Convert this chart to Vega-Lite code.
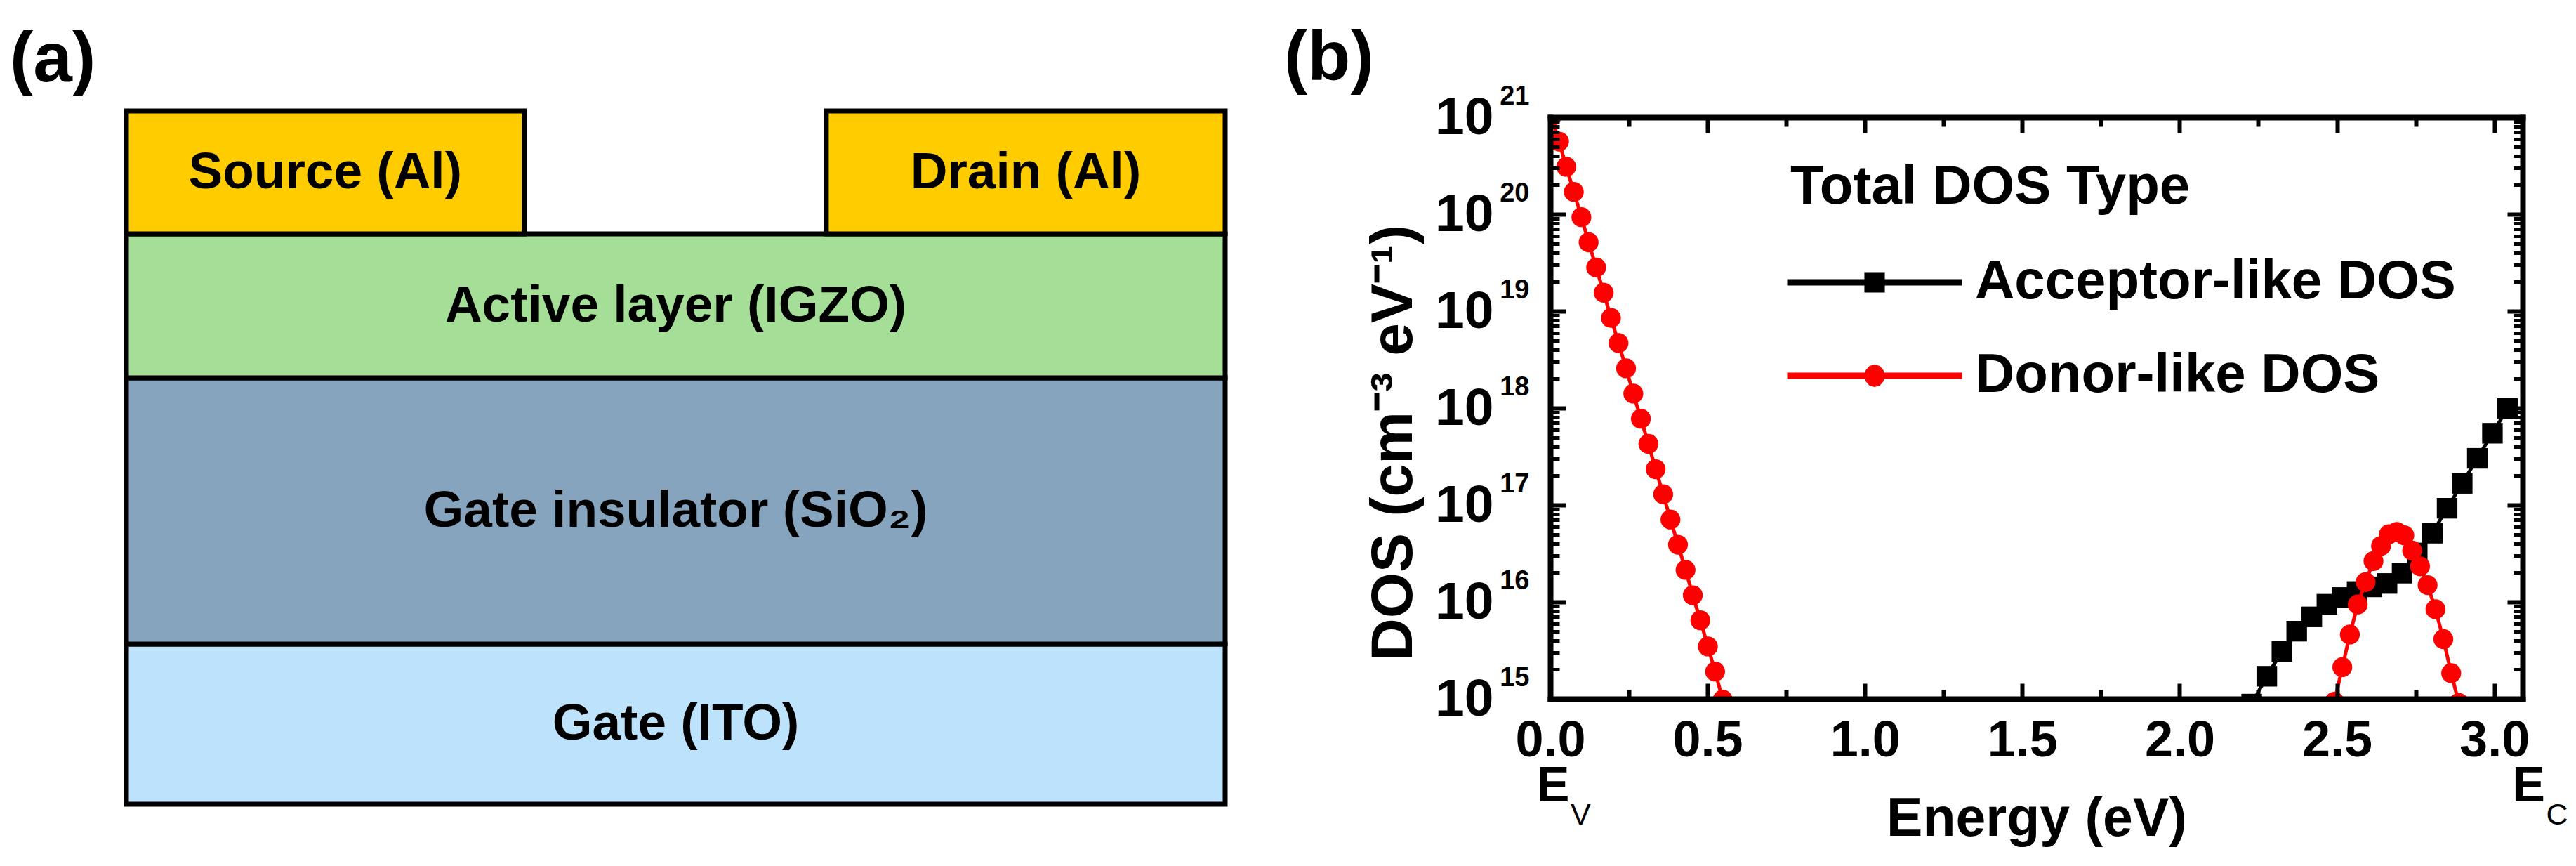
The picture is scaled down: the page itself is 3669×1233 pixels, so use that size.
{
  "$schema": "https://vega.github.io/schema/vega-lite/v6.json",
  "background": "white",
  "padding": {"left": 14, "top": 34, "right": 5, "bottom": 5},
  "config": {
    "font": "Liberation Sans",
    "view": {"stroke": null},
    "axis": {"labelFont": "Liberation Sans", "titleFont": "Liberation Sans", "labelColor": "black", "titleColor": "black", "tickColor": "black", "domainColor": "black", "grid": false},
    "legend": {"labelFont": "Liberation Sans", "titleFont": "Liberation Sans"},
    "title": {"font": "Liberation Sans", "color": "black"},
    "text": {"font": "Liberation Sans", "color": "black"}
  },
  "spacing": 463,
  "bounds": "flush",
  "resolve": {"scale": {"color": "independent", "fill": "independent", "shape": "independent"}, "legend": {"color": "independent", "fill": "independent", "shape": "independent"}},
  "hconcat": [
    {
      "width": 1565,
      "height": 978,
      "title": {"text": "(a)", "anchor": "start", "frame": "group", "fontSize": 100, "fontWeight": "bold", "baseline": "alphabetic", "offset": 0, "dy": 61, "dx": -166},
      "data": {"values": [
        {"layer": "Gate", "label": "Gate (ITO)", "x0": 0, "x1": 100, "y0": 0, "y1": 228},
        {"layer": "Gate insulator", "label": "Gate insulator (SiO₂)", "x0": 0, "x1": 100, "y0": 228, "y1": 607},
        {"layer": "Active layer", "label": "Active layer (IGZO)", "x0": 0, "x1": 100, "y0": 607, "y1": 812},
        {"layer": "Source", "label": "Source (Al)", "x0": 0, "x1": 36.2, "y0": 812, "y1": 987},
        {"layer": "Drain", "label": "Drain (Al)", "x0": 63.7, "x1": 100, "y0": 812, "y1": 987}
      ]},
      "layer": [
        {
          "mark": {"type": "rect", "stroke": "black", "strokeWidth": 7},
          "encoding": {
            "x": {"field": "x0", "type": "quantitative", "scale": {"domain": [0, 100], "nice": false, "zero": false}, "axis": null},
            "x2": {"field": "x1"},
            "y": {"field": "y0", "type": "quantitative", "scale": {"domain": [0, 978], "nice": false, "zero": false}, "axis": null},
            "y2": {"field": "y1"},
            "fill": {"field": "layer", "type": "nominal", "legend": null,
              "scale": {"domain": ["Gate", "Gate insulator", "Active layer", "Source", "Drain"], "range": ["#BDE3FC", "#87A4BF", "#A5DF97", "#FFCC00", "#FFCC00"]}}
          }
        },
        {
          "transform": [
            {"calculate": "(datum.x0 + datum.x1) / 2", "as": "cx"},
            {"calculate": "(datum.y0 + datum.y1) / 2", "as": "cy"}
          ],
          "mark": {"type": "text", "fontSize": 73, "fontWeight": "bold", "align": "center", "baseline": "middle", "color": "black"},
          "encoding": {
            "x": {"field": "cx", "type": "quantitative"},
            "y": {"field": "cy", "type": "quantitative"},
            "text": {"field": "label"}
          }
        }
      ]
    },
    {
      "width": 1385,
      "height": 828,
      "title": {"text": "(b)", "anchor": "start", "frame": "group", "fontSize": 100, "fontWeight": "bold", "baseline": "alphabetic", "offset": 0, "dy": 96, "dx": -379},
      "data": {"values": [
        {"series": "Acceptor-like DOS", "branch": "acceptor", "energy": 2.229, "dos": 8.83e14},
        {"series": "Acceptor-like DOS", "branch": "acceptor", "energy": 2.277, "dos": 1.71e15},
        {"series": "Acceptor-like DOS", "branch": "acceptor", "energy": 2.325, "dos": 3.09e15},
        {"series": "Acceptor-like DOS", "branch": "acceptor", "energy": 2.372, "dos": 4.99e15},
        {"series": "Acceptor-like DOS", "branch": "acceptor", "energy": 2.420, "dos": 7.01e15},
        {"series": "Acceptor-like DOS", "branch": "acceptor", "energy": 2.468, "dos": 9.46e15},
        {"series": "Acceptor-like DOS", "branch": "acceptor", "energy": 2.516, "dos": 1.11e16},
        {"series": "Acceptor-like DOS", "branch": "acceptor", "energy": 2.564, "dos": 1.28e16},
        {"series": "Acceptor-like DOS", "branch": "acceptor", "energy": 2.611, "dos": 1.43e16},
        {"series": "Acceptor-like DOS", "branch": "acceptor", "energy": 2.659, "dos": 1.55e16},
        {"series": "Acceptor-like DOS", "branch": "acceptor", "energy": 2.707, "dos": 1.98e16},
        {"series": "Acceptor-like DOS", "branch": "acceptor", "energy": 2.755, "dos": 3.20e16},
        {"series": "Acceptor-like DOS", "branch": "acceptor", "energy": 2.803, "dos": 5.12e16},
        {"series": "Acceptor-like DOS", "branch": "acceptor", "energy": 2.850, "dos": 9.25e16},
        {"series": "Acceptor-like DOS", "branch": "acceptor", "energy": 2.898, "dos": 1.67e17},
        {"series": "Acceptor-like DOS", "branch": "acceptor", "energy": 2.946, "dos": 3.03e17},
        {"series": "Acceptor-like DOS", "branch": "acceptor", "energy": 2.994, "dos": 5.50e17},
        {"series": "Acceptor-like DOS", "branch": "acceptor", "energy": 3.042, "dos": 9.91e17},
        {"series": "Donor-like DOS", "branch": "tail", "energy": 0.004, "dos": 1.02e21},
        {"series": "Donor-like DOS", "branch": "tail", "energy": 0.028, "dos": 5.62e20},
        {"series": "Donor-like DOS", "branch": "tail", "energy": 0.051, "dos": 3.09e20},
        {"series": "Donor-like DOS", "branch": "tail", "energy": 0.075, "dos": 1.70e20},
        {"series": "Donor-like DOS", "branch": "tail", "energy": 0.099, "dos": 9.33e19},
        {"series": "Donor-like DOS", "branch": "tail", "energy": 0.122, "dos": 5.13e19},
        {"series": "Donor-like DOS", "branch": "tail", "energy": 0.146, "dos": 2.82e19},
        {"series": "Donor-like DOS", "branch": "tail", "energy": 0.170, "dos": 1.55e19},
        {"series": "Donor-like DOS", "branch": "tail", "energy": 0.193, "dos": 8.51e18},
        {"series": "Donor-like DOS", "branch": "tail", "energy": 0.217, "dos": 4.68e18},
        {"series": "Donor-like DOS", "branch": "tail", "energy": 0.241, "dos": 2.57e18},
        {"series": "Donor-like DOS", "branch": "tail", "energy": 0.264, "dos": 1.41e18},
        {"series": "Donor-like DOS", "branch": "tail", "energy": 0.288, "dos": 7.76e17},
        {"series": "Donor-like DOS", "branch": "tail", "energy": 0.312, "dos": 4.27e17},
        {"series": "Donor-like DOS", "branch": "tail", "energy": 0.335, "dos": 2.34e17},
        {"series": "Donor-like DOS", "branch": "tail", "energy": 0.359, "dos": 1.29e17},
        {"series": "Donor-like DOS", "branch": "tail", "energy": 0.382, "dos": 7.08e16},
        {"series": "Donor-like DOS", "branch": "tail", "energy": 0.406, "dos": 3.89e16},
        {"series": "Donor-like DOS", "branch": "tail", "energy": 0.430, "dos": 2.14e16},
        {"series": "Donor-like DOS", "branch": "tail", "energy": 0.453, "dos": 1.17e16},
        {"series": "Donor-like DOS", "branch": "tail", "energy": 0.477, "dos": 6.46e15},
        {"series": "Donor-like DOS", "branch": "tail", "energy": 0.501, "dos": 3.47e15},
        {"series": "Donor-like DOS", "branch": "tail", "energy": 0.524, "dos": 1.91e15},
        {"series": "Donor-like DOS", "branch": "tail", "energy": 0.548, "dos": 9.8e14},
        {"series": "Donor-like DOS", "branch": "gaussian", "energy": 2.492, "dos": 9.33e14},
        {"series": "Donor-like DOS", "branch": "gaussian", "energy": 2.517, "dos": 2.12e15},
        {"series": "Donor-like DOS", "branch": "gaussian", "energy": 2.541, "dos": 4.61e15},
        {"series": "Donor-like DOS", "branch": "gaussian", "energy": 2.566, "dos": 9.40e15},
        {"series": "Donor-like DOS", "branch": "gaussian", "energy": 2.591, "dos": 1.60e16},
        {"series": "Donor-like DOS", "branch": "gaussian", "energy": 2.616, "dos": 2.64e16},
        {"series": "Donor-like DOS", "branch": "gaussian", "energy": 2.640, "dos": 3.78e16},
        {"series": "Donor-like DOS", "branch": "gaussian", "energy": 2.665, "dos": 4.99e16},
        {"series": "Donor-like DOS", "branch": "gaussian", "energy": 2.690, "dos": 5.28e16},
        {"series": "Donor-like DOS", "branch": "gaussian", "energy": 2.714, "dos": 4.86e16},
        {"series": "Donor-like DOS", "branch": "gaussian", "energy": 2.739, "dos": 3.38e16},
        {"series": "Donor-like DOS", "branch": "gaussian", "energy": 2.764, "dos": 2.33e16},
        {"series": "Donor-like DOS", "branch": "gaussian", "energy": 2.788, "dos": 1.49e16},
        {"series": "Donor-like DOS", "branch": "gaussian", "energy": 2.813, "dos": 8.41e15},
        {"series": "Donor-like DOS", "branch": "gaussian", "energy": 2.838, "dos": 4.13e15},
        {"series": "Donor-like DOS", "branch": "gaussian", "energy": 2.863, "dos": 1.84e15},
        {"series": "Donor-like DOS", "branch": "gaussian", "energy": 2.887, "dos": 9.08e14}
      ]},
      "resolve": {"axis": {"x": "independent", "y": "independent"}},
      "layer": [
        {
          "transform": [{"filter": "false"}],
          "mark": {"type": "point", "filled": true, "opacity": 1},
          "encoding": {
            "x": {"field": "energy", "type": "quantitative", "scale": {"domain": [0, 3.09], "nice": false, "zero": false}, "axis": null},
            "y": {"field": "dos", "type": "quantitative", "scale": {"type": "log", "domain": [1e15, 1e21], "nice": false}, "axis": null},
            "color": {"field": "series", "type": "nominal",
              "scale": {"domain": ["Acceptor-like DOS", "Donor-like DOS"], "range": ["#000000", "#FF0000"]},
              "legend": {"orient": "none", "legendX": 342, "legendY": 61, "direction": "vertical", "title": "Total DOS Type", "titleFontSize": 78, "titleFontWeight": "bold", "titleColor": "black", "titlePadding": 57, "titleLimit": 2000, "titleAnchor": "start",
                "labelFontSize": 78, "labelFontWeight": "bold", "labelColor": "black", "labelOffset": 104, "labelLimit": 2000,
                "symbolSize": 900, "symbolOffset": 81, "symbolStrokeWidth": 0, "rowPadding": 55, "padding": 0}},
            "shape": {"field": "series", "type": "nominal",
              "scale": {"domain": ["Acceptor-like DOS", "Donor-like DOS"], "range": ["M-8.3,-0.3H8.3V0.3H-8.3Z M-0.97,-0.97H0.97V0.97H-0.97Z", "M-8.3,-0.3H8.3V0.3H-8.3Z M0.97,0 L0.84,0.535 L0.485,0.927 L0,1.07 L-0.485,0.927 L-0.84,0.535 L-0.97,0 L-0.84,-0.535 L-0.485,-0.927 L0,-1.07 L0.485,-0.927 L0.84,-0.535 Z"]},
              "legend": {"orient": "none", "legendX": 342, "legendY": 61, "direction": "vertical", "title": "Total DOS Type", "titleFontSize": 78, "titleFontWeight": "bold", "titleColor": "black", "titlePadding": 57, "titleLimit": 2000, "titleAnchor": "start",
                "labelFontSize": 78, "labelFontWeight": "bold", "labelColor": "black", "labelOffset": 104, "labelLimit": 2000,
                "symbolSize": 900, "symbolOffset": 81, "symbolStrokeWidth": 0, "rowPadding": 55, "padding": 0}}
          }
        },
        {
          "transform": [{"filter": "datum.series === 'Acceptor-like DOS'"}],
          "mark": {"type": "point", "shape": "square", "filled": true, "size": 860, "opacity": 1, "clip": true},
          "encoding": {
            "x": {"field": "energy", "type": "quantitative",
              "axis": {"orient": "bottom", "values": [0, 0.5, 1, 1.5, 2, 2.5, 3], "format": ".1f", "labelFontSize": 72, "labelFontWeight": "bold", "labelPadding": 46, "labelFlush": false, "labelOverlap": false, "tickSize": -22, "tickWidth": 6, "domain": true, "domainWidth": 8, "domainCap": "square", "title": "Energy (eV)", "titleFontSize": 77, "titleFontWeight": "bold", "titleBaseline": "alphabetic", "titleY": 194, "zindex": 1}},
            "y": {"field": "dos", "type": "quantitative",
              "axis": {"orient": "left", "values": [1e15, 1e16, 1e17, 1e18, 1e19, 1e20, 1e21], "labelExpr": "'10'", "labelFontSize": 75, "labelFontWeight": "bold", "labelPadding": 103, "labelOverlap": false, "labelBaseline": "middle", "tickSize": -22, "tickWidth": 6, "domain": true, "domainWidth": 8, "domainCap": "square", "title": "DOS (cm⁻³ eV⁻¹)", "titleFontSize": 84, "titleFontWeight": "bold", "titleBaseline": "alphabetic", "titleAlign": "center", "titleAngle": -90, "titleX": -198, "titleY": 463, "zindex": 1}},
            "color": {"field": "series", "type": "nominal", "legend": null,
              "scale": {"domain": ["Acceptor-like DOS", "Donor-like DOS"], "range": ["#000000", "#FF0000"]}}
          }
        },
        {
          "transform": [{"filter": "datum.series === 'Acceptor-like DOS'"}],
          "mark": {"type": "line", "strokeWidth": 5, "clip": true},
          "encoding": {
            "x": {"field": "energy", "type": "quantitative",
              "axis": {"orient": "bottom", "values": [0.25, 0.75, 1.25, 1.75, 2.25, 2.75], "labels": false, "domain": false, "tickSize": -13, "tickWidth": 6, "title": null, "zindex": 1}},
            "y": {"field": "dos", "type": "quantitative",
              "axis": {"orient": "left", "values": [1e15, 2e15, 3e15, 4e15, 5e15, 6e15, 7e15, 8e15, 9e15, 1e16, 2e16, 3e16, 4e16, 5e16, 6e16, 7e16, 8e16, 9e16, 1e17, 2e17, 3e17, 4e17, 5e17, 6e17, 7e17, 8e17, 9e17, 1e18, 2e18, 3e18, 4e18, 5e18, 6e18, 7e18, 8e18, 9e18, 1e19, 2e19, 3e19, 4e19, 5e19, 6e19, 7e19, 8e19, 9e19, 1e20, 2e20, 3e20, 4e20, 5e20, 6e20, 7e20, 8e20, 9e20, 1e21],
                "labelExpr": "abs(log(datum.value)/LN10 - round(log(datum.value)/LN10)) < 0.001 ? format(round(log(datum.value)/LN10), 'd') : ''",
                "labelFontSize": 38, "labelFontWeight": "bold", "labelPadding": 43, "labelOffset": -30, "labelBaseline": "middle", "labelOverlap": false,
                "domain": false, "tickSize": -13, "tickWidth": 5, "title": null, "zindex": 1}},
            "color": {"field": "series", "type": "nominal", "legend": null,
              "scale": {"domain": ["Acceptor-like DOS", "Donor-like DOS"], "range": ["#000000", "#FF0000"]}},
            "detail": {"field": "branch"}
          }
        },
        {
          "transform": [{"filter": "datum.series === 'Donor-like DOS'"}],
          "mark": {"type": "point", "shape": "circle", "filled": true, "size": 800, "opacity": 1, "clip": true},
          "encoding": {
            "x": {"field": "energy", "type": "quantitative",
              "axis": {"orient": "top", "values": [0, 0.5, 1, 1.5, 2, 2.5, 3], "labels": false, "tickSize": -22, "tickWidth": 6, "domain": true, "domainWidth": 8, "domainCap": "square", "title": null, "zindex": 1}},
            "y": {"field": "dos", "type": "quantitative",
              "axis": {"orient": "right", "values": [1e15, 1e16, 1e17, 1e18, 1e19, 1e20, 1e21], "labels": false, "tickSize": -22, "tickWidth": 6, "domain": true, "domainWidth": 8, "domainCap": "square", "title": null, "zindex": 1}},
            "color": {"field": "series", "type": "nominal", "legend": null,
              "scale": {"domain": ["Acceptor-like DOS", "Donor-like DOS"], "range": ["#000000", "#FF0000"]}}
          }
        },
        {
          "transform": [{"filter": "datum.series === 'Donor-like DOS'"}],
          "mark": {"type": "line", "strokeWidth": 5, "clip": true},
          "encoding": {
            "x": {"field": "energy", "type": "quantitative",
              "axis": {"orient": "top", "values": [0.25, 0.75, 1.25, 1.75, 2.25, 2.75], "labels": false, "domain": false, "tickSize": -13, "tickWidth": 6, "title": null, "zindex": 1}},
            "y": {"field": "dos", "type": "quantitative",
              "axis": {"orient": "right", "values": [2e15, 3e15, 4e15, 5e15, 6e15, 7e15, 8e15, 9e15, 2e16, 3e16, 4e16, 5e16, 6e16, 7e16, 8e16, 9e16, 2e17, 3e17, 4e17, 5e17, 6e17, 7e17, 8e17, 9e17, 2e18, 3e18, 4e18, 5e18, 6e18, 7e18, 8e18, 9e18, 2e19, 3e19, 4e19, 5e19, 6e19, 7e19, 8e19, 9e19, 2e20, 3e20, 4e20, 5e20, 6e20, 7e20, 8e20, 9e20], "labels": false, "domain": false, "tickSize": -13, "tickWidth": 5, "title": null, "zindex": 1}},
            "color": {"field": "series", "type": "nominal", "legend": null,
              "scale": {"domain": ["Acceptor-like DOS", "Donor-like DOS"], "range": ["#000000", "#FF0000"]}},
            "detail": {"field": "branch"}
          }
        },
        {
          "data": {"values": [
            {"edge": "valence band edge", "energy": 0, "sub": "V"},
            {"edge": "conduction band edge", "energy": 3.1, "sub": "C"}
          ]},
          "mark": {"type": "text", "text": "E", "fontSize": 70, "fontWeight": "bold", "align": "center", "baseline": "alphabetic", "dx": 4, "clip": false},
          "encoding": {
            "x": {"field": "energy", "type": "quantitative", "axis": null},
            "y": {"datum": 8.73e13, "type": "quantitative", "axis": null}
          }
        },
        {
          "data": {"values": [
            {"edge": "valence band edge", "energy": 0, "sub": "V"},
            {"edge": "conduction band edge", "energy": 3.1, "sub": "C"}
          ]},
          "mark": {"type": "text", "fontSize": 43, "fontWeight": "normal", "align": "left", "baseline": "alphabetic", "dx": 29, "dy": 33, "clip": false},
          "encoding": {
            "x": {"field": "energy", "type": "quantitative", "axis": null},
            "y": {"datum": 8.73e13, "type": "quantitative", "axis": null},
            "text": {"field": "sub"}
          }
        }
      ]
    }
  ]
}
